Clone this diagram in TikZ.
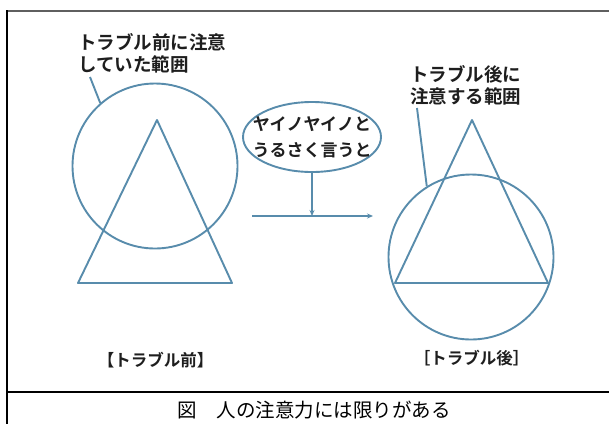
\documentclass[tikz,border=0pt]{standalone}
\usepackage{fontspec}
\newfontfamily\jp{Noto Sans CJK JP}
\newfontfamily\jpb{Noto Sans CJK JP Bold}
\usetikzlibrary{shapes.geometric,arrows.meta}
\definecolor{linec}{RGB}{88,140,172}
\definecolor{textc}{RGB}{30,30,30}
\definecolor{framegray}{RGB}{95,95,95}
\tikzset{
  figline/.style={draw=linec, line width=1.9pt},
  lbl/.style={inner sep=0pt, text=textc, align=left, font={\jpb\fontsize{18.5}{22.5}\selectfont}},
  elltext/.style={inner sep=0pt, text=textc, align=center, font={\jpb\fontsize{17}{26}\selectfont}},
  sublbl/.style={inner sep=0pt, text=textc, font={\jpb\fontsize{16.5}{18}\selectfont}},
  captxt/.style={inner sep=0pt, text=black, font={\jp\fontsize{19.5}{22}\selectfont}},
  arr/.style={-{Stealth[length=6pt,width=5pt]}}
}
\begin{document}
\begin{tikzpicture}[x=1pt,y=-1pt]
\useasboundingbox (0,0) rectangle (609,424);
\fill[white] (0,0) rectangle (609,424);
% frame
\draw[framegray, line width=2.2pt] (7,11) -- (609,11);
\draw[black, line width=1.5pt] (7,10) -- (7,424);
\draw[black, line width=1.5pt] (7,392) -- (609,392);
% left figure
\node[circle, figline, minimum size=165pt, inner sep=0pt] (c1) at (155,166) {};
\coordinate (t1a) at (157,120);
\coordinate (t1b) at (78,283);
\coordinate (t1c) at (232,283);
\draw[figline, line join=round] (t1a) -- (t1b) -- (t1c) -- cycle;
\node[lbl, anchor=north west] (l1) at (78,33) {トラブル前に注意\\していた範囲};
\coordinate (p1) at (90,77);
\draw[figline] (p1) -- (c1.131);
\node[sublbl] (s1) at (155.5,360) {【トラブル前】};
% right figure
\node[circle, figline, minimum size=165pt, inner sep=0pt] (c2) at (471,257) {};
\coordinate (t2a) at (472,120);
\coordinate (t2b) at (395,283);
\coordinate (t2c) at (548,283);
\draw[figline, line join=round] (t2a) -- (t2b) -- (t2c) -- cycle;
\node[lbl, anchor=north west] (l2) at (410,65) {トラブル後に\\注意する範囲};
\coordinate (p2) at (417,108);
\draw[figline] (p2) -- (c2.122);
\node[sublbl] (s2) at (471.5,358) {［トラブル後］};
% middle
\node[ellipse, figline, minimum width=138pt, minimum height=70pt, inner sep=0pt] (el) at (312,137) {};
\node[elltext] (et) at (312,137) {ヤイノヤイノと\\うるさく言うと};
\coordinate (h0) at (252,216);
\coordinate (h1) at (373,216);
\draw[figline, arr] (el.south) -- (el.south |- h0);
\draw[figline, arr] (h0) -- (h1);
% caption
\node[captxt] (cap) at (314,410) {図　人の注意力には限りがある};
\end{tikzpicture}
\end{document}
